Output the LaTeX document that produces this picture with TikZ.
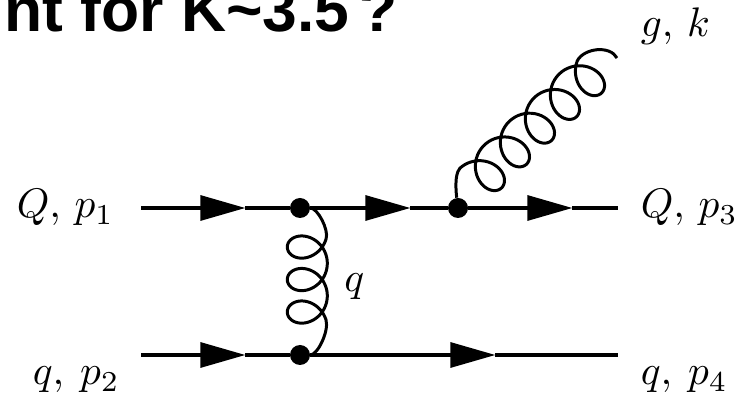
\documentclass[tikz,border=0pt]{standalone}
\usepackage{fontspec}
\setsansfont{Liberation Sans}
\usetikzlibrary{arrows.meta}
\begin{document}
\begin{tikzpicture}[
  line/.style={black, line width=1.8pt},
  quark/.style={line, -{Triangle[length=0.9cm, width=0.5cm]}, shorten >=-0.2pt},
  gluon/.style={black, line width=1.7pt, line join=round, samples=220, variable=\t},
  vertex/.style={circle, fill=black, inner sep=0pt, minimum size=0.4cm},
  label/.style={inner sep=0pt, anchor=base west, scale=2.35},
  declare function={
    lx(\t)=0.69*(\t-180)/360+0.39*sin(\t);
    ly(\t)=0.43*cos(\t);
  }
]
  \useasboundingbox (0,0) rectangle (14.98,7.94);
  \clip (0,0) rectangle (14.98,7.94);

  \node[anchor=base west, inner sep=0pt, font=\fontsize{35.5}{42}\sffamily\bfseries] (title) at (0.08,7.3) {nt for K\textasciitilde 3.5\,?};

  \node[vertex] (v1) at (6.0,3.78) {};
  \node[vertex] (v2) at (6.0,0.84) {};
  \node[vertex] (v3) at (9.16,3.78) {};

  \node[label] (inq) at (0.32,3.58) {$Q,\,p_1$};
  \node[label] (inl) at (0.64,0.24) {$q,\:p_2$};
  \node[label] (outq) at (12.8,3.58) {$Q,\,p_3$};
  \node[label] (outl) at (12.8,0.24) {$q,\:p_4$};
  \node[label] (outg) at (12.8,7.2) {$g,\,k$};
  \node[label] (lq) at (6.87,2.1) {$q$};

  \coordinate (a) at (2.82,3.78);
  \coordinate (b) at (4.9,3.78);
  \coordinate (c) at (8.2,3.78);
  \coordinate (d) at (11.44,3.78);
  \coordinate (e) at (12.36,3.78);
  \coordinate (f) at (2.82,0.84);
  \coordinate (g) at (4.9,0.84);
  \coordinate (h) at (9.9,0.84);
  \coordinate (i) at (12.36,0.84);
  \coordinate (j) at (12.34,6.78);

  \draw[quark] (a) -- (b);
  \draw[line] (b) -- (v1);
  \draw[quark] (v1) -- (c);
  \draw[line] (c) -- (v3);
  \draw[quark] (v3) -- (d);
  \draw[line] (d) -- (e);
  \draw[quark] (f) -- (g);
  \draw[line] (g) -- (v2);
  \draw[quark] (v2) -- (h);
  \draw[line] (h) -- (i);

  % exchanged gluon
  \draw[gluon] (v1) .. controls (6.35,3.78) and (6.58,3.35) .. (6.522,3.161)
    -- plot[domain=20:1060] ({6.146+0.4*cos(\t)},{3.324-0.65*\t/360-0.37*sin(\t)})
    .. controls (6.58,1.31) and (6.35,0.84) .. (v2);
  % radiated gluon
  \draw[gluon] (v3) .. controls (9.12,4.1) and (9.09,4.45) .. (9.19,4.56)
    -- plot[domain=0:1770] ({9.734+0.725*lx(\t)-0.688*ly(\t)},{4.492+0.688*lx(\t)+0.725*ly(\t)})
    .. controls (11.68,6.98) and (12.2,7.04) .. (j);
\end{tikzpicture}
\end{document}
